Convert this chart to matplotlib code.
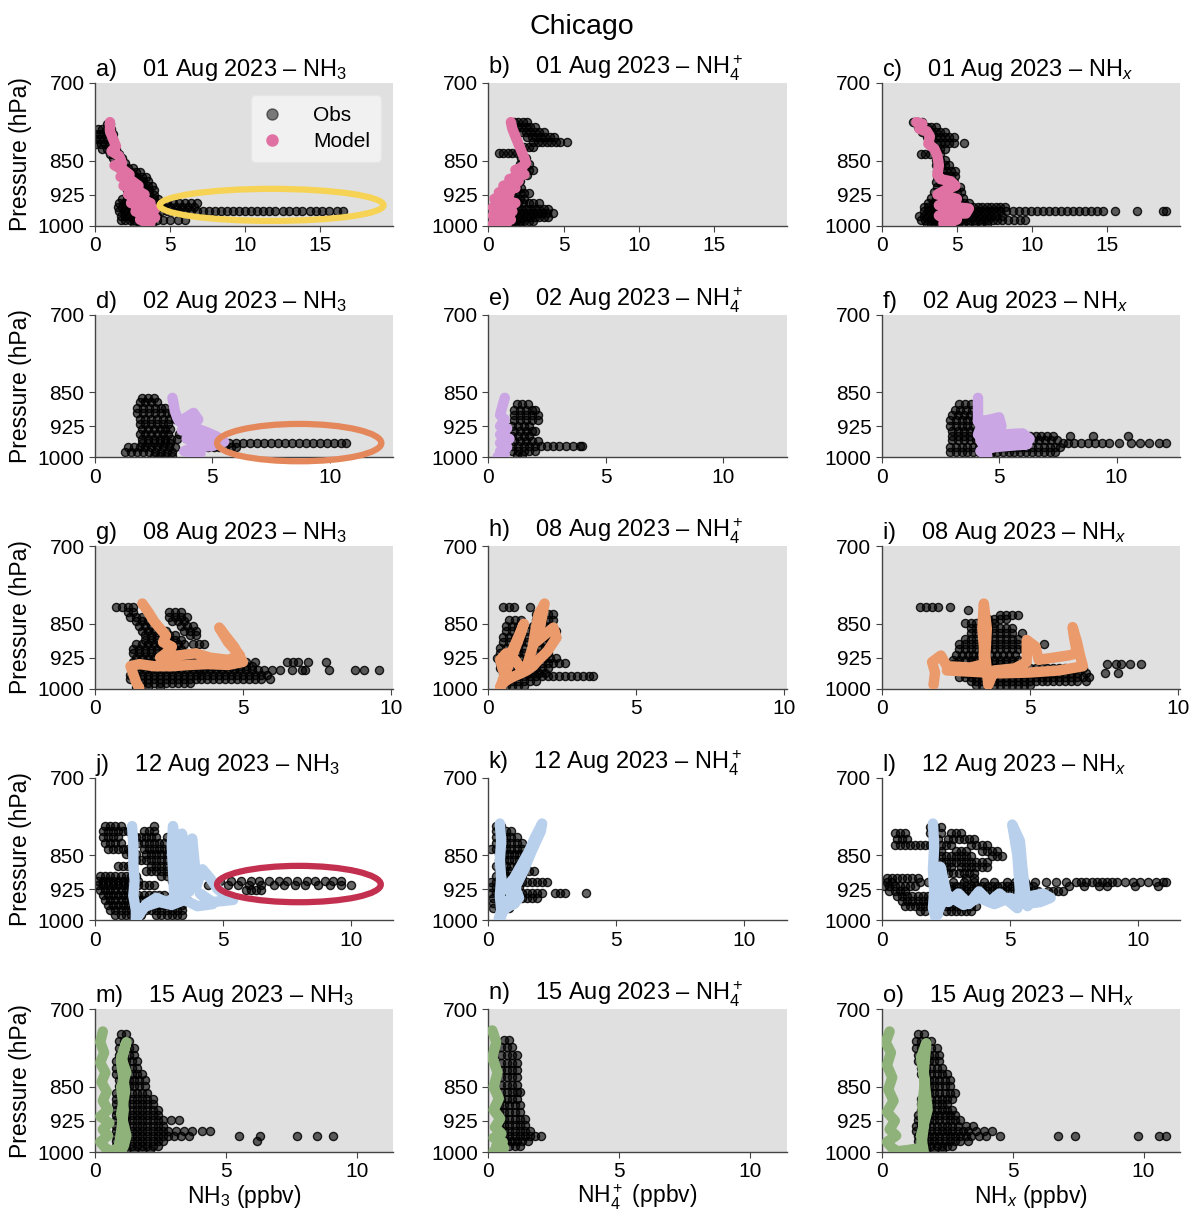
import numpy as np
import matplotlib
matplotlib.use("Agg")
import matplotlib.pyplot as plt
from matplotlib.patches import Ellipse
from matplotlib.lines import Line2D
from matplotlib.ticker import MultipleLocator, NullLocator

plt.rcParams['font.family'] = ['Liberation Sans', 'DejaVu Sans']
plt.rcParams['mathtext.fontset'] = 'custom'
plt.rcParams['mathtext.rm'] = 'Liberation Sans'
plt.rcParams['mathtext.it'] = 'Liberation Sans:italic'
plt.rcParams['mathtext.default'] = 'regular'

# ---------------------------------------------------------------- labels
DATES = ['01 Aug 2023', '02 Aug 2023', '08 Aug 2023', '12 Aug 2023', '15 Aug 2023']
SPECIES = ['NH$_3$', 'NH$_4^+$', 'NH$_{\\mathit{x}}$']
XLABELS = ['NH$_3$ (ppbv)', 'NH$_4^+$ (ppbv)', 'NH$_{\\mathit{x}}$ (ppbv)']
LETTERS = 'abcdefghijklmno'
P_TICKS = [700, 850, 925, 1000]

# ---------------------------------------------------------------- observations
# each row: (pressure level in hPa, mixing ratios in ppbv sampled at that level)
OBS_A = [
    (775, [0.8, 1.0]),
    (785, [0.2, 0.5, 0.8, 1.1]),
    (795, [0.0, 0.3, 0.6, 0.9, 1.2]),
    (805, [0.0, 0.3, 0.6, 0.9, 1.2]),
    (815, [0.1, 0.4, 0.7, 1.0, 1.3]),
    (825, [0.5, 0.8, 1.1, 1.4]),
    (835, [1.0, 1.3, 1.6]),
    (845, [1.2, 1.5, 1.8]),
    (855, [1.4, 1.7, 2.0]),
    (865, [1.6, 1.9, 2.2, 2.5]),
    (875, [1.8, 2.1, 2.4, 2.7, 3.0]),
    (885, [1.9, 2.2, 2.5, 2.8, 3.1, 3.4]),
    (895, [2.0, 2.3, 2.6, 2.9, 3.2, 3.5]),
    (905, [2.0, 2.3, 2.6, 2.9, 3.2, 3.5, 3.8]),
    (915, [2.1, 2.4, 2.7, 3.0, 3.3, 3.6, 3.9]),
    (925, [2.1, 2.4, 2.7, 3.0, 3.3, 3.6, 3.9]),
    (935, [1.8, 2.1, 2.4, 2.7, 3.0, 3.3, 3.6, 3.9, 4.2]),
    (945, [1.6, 1.9, 2.2, 2.5, 2.8, 3.1, 3.4, 3.7, 4.0, 4.4, 4.8, 5.2, 5.6, 6.0, 6.4, 6.8]),
    (955, [1.5, 1.8, 2.1, 2.4, 2.7, 3.0, 3.3, 3.6, 3.9, 4.2, 4.6, 5.0, 5.4, 5.8, 6.2, 6.6]),
    (965, [1.6, 1.9, 2.2, 2.5, 2.8, 3.1, 3.4, 3.7, 4.0, 4.4, 4.8, 5.2, 5.6, 6.0, 6.4, 6.8,
           7.2, 7.6, 8.0, 8.4, 8.8, 9.2, 9.6, 10.0, 10.4, 10.8, 11.2, 11.6, 12.0, 12.5,
           12.9, 13.4, 13.8, 14.3, 14.7, 15.1, 15.6, 16.1, 16.5]),
    (975, [1.7, 2.0, 2.3, 2.6, 2.9, 3.2, 3.5, 3.8, 4.1]),
    (985, [1.7, 2.0, 2.3, 2.6, 2.9, 3.2, 3.5, 3.8, 4.1, 4.5, 5.0, 5.5, 6.0]),
    (995, [2.6, 3.0, 3.4, 3.8]),
]
OBS_B = [
    (772, [1.7, 2.0, 2.3, 2.6]),
    (782, [1.9, 2.2, 2.5, 2.8, 3.1]),
    (792, [2.2, 2.5, 2.8, 3.1, 3.4, 3.7]),
    (802, [2.6, 2.9, 3.2, 3.5, 3.8, 4.1, 4.4]),
    (812, [3.0, 3.3, 3.6, 3.9, 4.2, 4.5, 4.8, 5.2]),
    (822, [2.4, 2.7, 3.0]),
    (834, [0.7, 1.0, 1.3, 1.6, 1.9, 2.2]),
    (845, [2.2, 2.5]),
    (858, [2.1, 2.4, 2.7]),
    (870, [2.1, 2.4, 2.7, 3.0]),
    (882, [2.0, 2.3, 2.6]),
    (895, [1.8, 2.1]),
    (910, [1.6, 1.9, 2.2]),
    (922, [1.5, 1.8, 2.1, 2.4, 2.7]),
    (935, [1.5, 1.8, 2.1, 2.4]),
    (945, [1.4, 1.7, 2.0, 2.3, 2.7, 3.0, 3.4]),
    (958, [1.3, 1.6, 1.9, 2.2, 2.5, 2.8, 3.1, 3.4, 3.7, 4.0]),
    (968, [1.2, 1.5, 1.8, 2.1, 2.4, 2.7, 3.0, 3.3, 3.6, 3.9, 4.3]),
    (978, [1.3, 1.6, 1.9, 2.2, 2.5, 2.8, 3.1, 3.4, 3.7, 4.0]),
    (988, [1.2, 1.5, 1.8, 2.1, 2.4, 2.7, 3.0]),
    (997, [1.5, 1.8, 2.1]),
]
OBS_C = [
    (772, [2.1, 2.4, 2.7]),
    (782, [2.4, 2.7, 3.0, 3.3, 3.6]),
    (792, [2.7, 3.0, 3.3, 3.6, 3.9, 4.2]),
    (802, [3.0, 3.3, 3.6, 3.9, 4.2, 4.5, 4.8]),
    (814, [3.3, 3.6, 3.9, 4.2, 4.5, 4.8, 5.5]),
    (826, [3.6, 3.9, 4.2]),
    (836, [2.6, 2.9, 3.2, 3.6, 3.9]),
    (848, [3.6, 3.9, 4.2]),
    (860, [3.6, 3.9, 4.2, 4.5]),
    (872, [3.7, 4.0, 4.3, 4.6, 4.9]),
    (884, [3.7, 4.0, 4.3, 4.6, 4.9]),
    (896, [3.6, 3.9, 4.2, 4.5, 4.8]),
    (908, [3.7, 4.0, 4.3, 4.6, 4.9, 5.2]),
    (920, [3.5, 3.8, 4.1, 4.4, 4.7, 5.0, 5.3]),
    (932, [3.3, 3.6, 3.9, 4.2, 4.5, 4.8, 5.1, 5.4]),
    (944, [3.1, 3.4, 3.7, 4.0, 4.3, 4.6, 4.9, 5.2, 5.5, 5.8]),
    (955, [2.8, 3.1, 3.4, 3.7, 4.0, 4.3, 4.6, 4.9, 5.2, 5.5, 5.8, 6.1, 6.4, 6.7, 7.0, 7.3,
           7.6, 7.9, 8.2]),
    (965, [2.8, 3.1, 3.4, 3.7, 4.0, 4.3, 4.6, 4.9, 5.2, 5.5, 5.8, 6.1, 6.4, 6.7, 7.0, 7.3,
           7.6, 7.9, 8.3, 8.7, 9.1, 9.5, 9.9, 10.3, 10.7, 11.1, 11.5, 11.9, 12.3, 12.7,
           13.1, 13.5, 13.9, 14.3, 14.7, 15.5, 17.0, 18.7, 18.9]),
    (975, [2.5, 2.8, 3.1, 3.4, 3.7, 4.0, 4.3, 4.6, 4.9, 5.2, 5.5, 5.8, 6.1, 6.4, 6.7, 7.0,
           7.3, 7.6, 8.0]),
    (985, [2.6, 2.9, 3.2, 3.5, 3.8, 4.1, 4.4, 4.7, 5.0, 5.3, 5.6, 5.9, 6.2, 6.5, 6.8, 7.1,
           7.4, 7.7, 8.0, 8.4, 8.8, 9.2, 9.5]),
    (995, [3.0, 3.3, 3.6, 3.9, 4.2, 4.5, 4.8, 5.1, 5.4, 5.8, 6.2, 6.6, 7.0]),
]
OBS_D = [
    (862, [2.0, 2.25, 2.5]),
    (872, [1.9, 2.15, 2.4, 2.65]),
    (884, [1.8, 2.05, 2.3, 2.55, 2.8, 3.0]),
    (896, [1.8, 2.05, 2.3, 2.55, 2.8, 3.05, 3.3]),
    (908, [1.9, 2.15, 2.4, 2.65, 2.9, 3.15, 3.4]),
    (920, [1.9, 2.15, 2.4, 2.65, 2.9, 3.1]),
    (932, [2.0, 2.25, 2.5, 2.75, 3.0, 3.2]),
    (944, [1.9, 2.15, 2.4, 2.65, 2.9, 3.1, 3.6]),
    (956, [2.0, 2.25, 2.5, 2.75, 3.0, 3.25, 3.5]),
    (964, [2.0, 2.25, 2.5, 2.75, 3.0, 3.2, 5.7, 6.0, 6.3, 6.6, 6.9, 7.2, 7.5, 7.8, 8.1,
           8.4, 8.7, 9.0, 9.3, 9.6, 9.9, 10.2, 10.5, 10.7]),
    (975, [1.4, 1.65, 1.9, 2.15, 2.4, 2.65, 2.9, 3.15, 3.4, 4.8, 5.05, 5.3, 5.55, 5.8, 6.0]),
    (986, [1.3, 1.55, 1.8, 2.05, 2.3, 2.55, 2.8, 3.05, 3.3]),
    (996, [2.5, 2.75, 3.0, 3.3]),
]
OBS_E = [
    (876, [1.2, 1.45, 1.7]),
    (888, [1.1, 1.35, 1.6, 1.85, 2.0]),
    (900, [1.1, 1.35, 1.6, 1.85, 2.1]),
    (912, [1.1, 1.35, 1.6, 1.85, 2.1]),
    (924, [1.0, 1.25, 1.5, 1.75]),
    (936, [1.1, 1.35, 1.6, 1.85, 2.0]),
    (948, [1.0, 1.25, 1.5, 1.75]),
    (960, [1.1, 1.35, 1.6, 1.85, 2.1]),
    (972, [1.0, 1.25, 1.5, 1.75, 2.0, 2.25, 2.5, 2.75, 3.0, 3.3, 3.6, 3.9, 4.0]),
    (984, [1.0, 1.25, 1.5, 1.75, 2.0]),
    (995, [1.2, 1.45]),
]
OBS_F = [
    (876, [3.3, 3.55, 3.8]),
    (888, [3.1, 3.35, 3.6, 3.85]),
    (900, [3.0, 3.25, 3.5, 3.75, 4.0]),
    (912, [2.9, 3.15, 3.4, 3.65, 3.9]),
    (924, [2.9, 3.15, 3.4, 3.65, 3.9]),
    (936, [3.0, 3.25, 3.5, 3.75, 4.0]),
    (948, [3.0, 3.25, 3.5, 3.75, 4.0, 6.3, 6.55, 6.8, 7.05, 7.3, 8.0, 9.0, 10.5]),
    (958, [3.0, 3.25, 3.5, 3.75, 4.0, 6.2, 6.45, 6.7, 6.95, 7.2, 7.45]),
    (964, [7.7, 7.95, 8.2, 8.5, 8.8, 9.1, 9.4, 9.7, 10.1, 10.6, 11.0, 11.4, 11.8, 12.1]),
    (975, [2.9, 3.15, 3.4, 3.65, 3.9, 4.15, 4.4, 4.65, 4.9, 5.15, 5.4, 5.65, 5.9, 6.15,
           6.4, 6.65, 6.9, 7.15, 7.4, 7.6]),
    (986, [2.9, 3.15, 3.4, 3.65, 3.9, 4.15, 4.4, 4.65, 4.9, 5.15, 5.4, 5.65, 5.9, 6.15,
           6.4, 6.65, 6.9, 7.15, 7.4]),
    (996, [4.4, 4.6]),
]
OBS_G = [
    (815, [0.7, 0.9, 1.1, 1.3]),
    (825, [1.1, 1.3, 2.5, 2.7, 2.9]),
    (835, [1.2, 1.4, 1.6, 2.5, 2.7, 2.9, 3.1]),
    (845, [1.4, 1.6, 1.8, 2.6, 2.8, 3.0]),
    (855, [1.5, 1.7, 1.9, 2.1, 2.9, 3.1, 3.3]),
    (865, [1.6, 1.8, 2.0, 2.2, 2.4, 3.0, 3.2, 3.4]),
    (875, [1.7, 1.9, 2.1, 2.3, 2.5, 2.7, 3.2, 3.4]),
    (885, [1.7, 1.9, 2.1, 2.3, 2.5, 2.7, 2.9]),
    (895, [1.4, 1.6, 1.8, 2.0, 2.2, 2.4, 2.6, 2.8, 3.0, 3.3, 3.5, 3.7]),
    (905, [1.3, 1.5, 1.7, 1.9, 2.1, 2.3, 2.5, 2.7, 2.9]),
    (915, [1.3, 1.5, 1.7, 1.9, 2.1, 2.3, 2.5, 2.7, 2.9, 3.1]),
    (925, [1.4, 1.6, 1.8, 2.0, 2.2, 2.4, 2.6, 2.8, 3.0, 3.2]),
    (935, [1.3, 1.5, 1.7, 1.9, 2.1, 2.3, 2.5, 2.7, 2.9, 3.1, 3.3, 5.1, 5.4, 6.5, 6.7, 6.85,
           7.2, 7.8]),
    (945, [1.5, 1.7, 1.9, 2.1, 2.3, 2.5, 2.7, 2.9, 3.1, 3.3, 3.5, 3.7, 3.9, 4.1, 4.3, 4.5,
           4.7, 4.9, 5.1, 5.3]),
    (955, [1.3, 1.5, 1.7, 1.9, 2.1, 2.3, 2.5, 2.7, 2.9, 3.1, 3.3, 3.5, 3.7, 3.9, 4.1, 4.3,
           4.5, 4.7, 4.9, 5.1, 5.3, 5.5, 5.7, 6.0, 6.25, 6.65, 7.0, 7.1, 7.9, 8.8, 9.1, 9.6]),
    (965, [1.2, 1.4, 1.6, 1.8, 2.0, 2.2, 2.4, 2.6, 2.8, 3.0, 3.2, 3.4, 3.6, 3.8, 4.0, 4.2,
           4.4, 4.6, 4.8, 5.0, 5.2, 5.4, 5.6, 5.8]),
    (975, [1.2, 1.4, 1.6, 1.8, 2.0, 2.2, 2.4, 2.6, 2.8, 3.0, 3.2, 3.4, 3.6, 3.8, 4.0, 4.2,
           4.4, 4.6, 4.8, 5.0, 5.2, 5.4, 5.6, 5.9]),
    (985, [1.4, 1.6, 1.8, 2.0, 2.2, 2.4, 2.6, 2.8, 3.0, 3.2]),
    (995, [1.4, 1.8, 2.2]),
]
OBS_H = [
    (815, [0.5, 0.7, 0.85, 1.4]),
    (830, [1.6, 1.8, 2.0, 2.2]),
    (842, [0.7, 0.9, 1.1, 1.6, 1.8, 2.0, 2.2]),
    (854, [0.6, 0.8, 1.0, 1.2, 1.5, 1.7, 1.9, 2.1]),
    (866, [0.6, 0.8, 1.0, 1.3, 1.5, 1.7, 1.9, 2.1, 2.3]),
    (878, [0.5, 0.7, 0.9, 1.1, 1.3, 1.5, 1.7, 1.9, 2.1, 2.3]),
    (890, [0.5, 0.7, 0.9, 1.1, 1.3, 1.5, 1.7, 1.9, 2.1]),
    (902, [0.4, 0.6, 0.8, 1.0, 1.2, 1.5, 1.7, 1.9]),
    (914, [0.4, 0.6, 0.8, 1.0, 1.2, 1.4, 1.6, 1.8, 2.0]),
    (926, [0.3, 0.5, 0.7, 0.9, 1.1, 1.3, 1.5, 1.7, 1.9, 2.1, 2.3]),
    (938, [0.4, 0.6, 0.8, 1.0, 1.2, 1.4, 1.6, 1.8, 2.0, 2.2, 2.4, 2.6]),
    (950, [0.4, 0.6, 0.8, 1.0, 1.2, 1.4, 1.6, 1.8, 2.0]),
    (960, [0.5, 0.7, 0.9, 1.1, 1.3, 1.5, 1.7, 1.9]),
    (969, [0.6, 0.8, 1.0, 1.2, 1.4, 1.6, 1.8, 2.0, 2.2, 2.4, 2.6, 2.8, 3.0, 3.2, 3.4, 3.55]),
    (980, [0.6, 0.8, 1.0, 1.2, 1.4, 1.6]),
    (992, [0.6, 0.8, 1.0, 1.2]),
]
OBS_I = [
    (815, [1.3, 1.5, 1.7, 1.9, 2.3]),
    (822, [2.9]),
    (832, [4.0, 4.2, 4.4, 4.6]),
    (840, [3.4, 3.6, 3.8, 4.0, 4.2]),
    (848, [2.8, 3.0, 3.2, 3.4, 3.6, 3.8]),
    (858, [3.0, 3.2, 3.4, 3.6, 3.8, 4.0, 4.2, 4.4]),
    (870, [3.0, 3.2, 3.4, 3.6, 3.8, 4.0, 4.2, 4.4, 4.75]),
    (882, [2.8, 3.0, 3.2, 3.4, 3.6, 3.8, 4.0, 4.2, 4.4, 4.6]),
    (894, [2.6, 2.8, 3.0, 3.2, 3.4, 3.6, 3.8, 4.0, 4.2, 4.4, 4.6, 5.5]),
    (906, [2.6, 2.8, 3.0, 3.2, 3.4, 3.6, 3.8, 4.0, 4.2, 4.4, 4.6, 4.8]),
    (918, [2.5, 2.7, 2.9, 3.1, 3.3, 3.5, 3.7, 3.9, 4.1, 4.3, 4.5]),
    (930, [2.4, 2.6, 2.8, 3.0, 3.2, 3.4, 3.6, 3.8, 4.0, 4.2, 4.4, 4.6, 4.8]),
    (940, [2.4, 2.6, 3.0, 3.2, 3.4, 3.6, 3.8, 4.0, 4.2, 4.4, 4.6, 7.6, 7.9, 8.1, 8.4, 8.75]),
    (950, [3.0, 3.2, 3.4, 3.6, 3.8, 4.0, 4.2, 4.4, 4.6, 4.8, 5.0, 5.2, 5.4, 5.6, 5.8, 6.0,
           6.2, 6.4, 6.6, 6.8]),
    (960, [2.8, 3.0, 3.2, 3.4, 3.6, 3.8, 4.0, 4.2, 4.4, 4.6, 4.8, 5.0, 5.2, 5.4, 5.6, 5.8,
           6.0, 6.2, 6.4, 6.6, 6.9, 7.55, 8.0]),
    (970, [2.6, 2.8, 3.0, 3.2, 3.4, 3.6, 3.8, 4.0, 4.2, 4.4, 4.6, 4.8, 5.0, 5.2, 5.4, 5.6,
           5.8, 6.0, 6.2, 6.4, 6.6, 6.8, 7.0]),
    (980, [3.0, 3.2, 3.4, 3.6, 3.8, 4.0, 4.2, 4.4, 4.6, 4.8, 5.0, 5.2, 5.4, 5.6, 5.8, 6.0,
           6.2, 6.4, 6.6, 6.9]),
    (990, [3.2, 3.4, 3.6, 3.8, 4.0, 4.2, 4.4, 4.6, 4.8, 5.0]),
]
OBS_J = [
    (790, [0.4, 0.6, 0.8, 1.0, 2.3]),
    (800, [0.3, 0.5, 0.7, 0.9, 1.1, 1.3, 1.9, 2.1, 2.3]),
    (812, [0.3, 0.5, 0.7, 0.9, 1.6, 1.8, 2.0, 2.2, 2.4, 2.8, 3.0]),
    (824, [0.4, 0.6, 0.8, 1.0, 1.7, 1.9, 2.1, 2.3, 2.5, 2.7]),
    (836, [0.5, 0.7, 0.9, 1.1, 1.3, 1.9, 2.1, 2.3, 2.5, 2.7, 2.9]),
    (848, [1.2, 1.4, 1.6, 2.0, 2.2, 2.4, 2.6, 2.8, 3.0]),
    (860, [1.6, 1.8, 2.0, 2.2, 2.4, 2.6, 2.8, 3.0, 3.2]),
    (872, [0.9, 1.1, 1.3, 1.5, 2.2, 2.4, 2.6, 2.8, 3.0, 3.2, 3.4]),
    (884, [2.0, 2.2, 2.4, 2.6, 2.8, 3.0, 3.2]),
    (896, [0.2, 0.4, 0.6, 0.8, 1.0, 1.2, 1.4, 1.6, 2.6, 2.8, 3.0, 3.2, 3.4]),
    (906, [0.1, 0.3, 0.5, 0.7, 0.9, 1.1, 1.3, 1.5, 1.7, 3.0, 3.2, 3.4, 3.6, 4.9, 5.3, 5.7,
           6.1, 6.4, 6.8, 7.2, 7.5, 7.9, 8.3, 8.6, 9.0, 9.3, 9.6]),
    (916, [0.1, 0.3, 0.5, 0.7, 0.9, 1.1, 1.3, 1.5, 1.7, 1.9, 2.1, 2.3, 4.4, 5.2, 5.6, 6.0,
           6.5, 7.0, 7.4, 7.8, 8.2, 8.7, 9.2, 9.6, 10.0]),
    (926, [0.2, 0.4, 0.6, 0.8, 1.0, 1.2, 1.4, 3.2, 3.6, 5.9, 6.1, 6.3, 6.5]),
    (938, [0.3, 0.5, 0.7, 0.9, 1.1, 1.3, 1.5, 1.7, 1.9, 2.1, 2.3, 2.5, 2.7, 3.0]),
    (950, [0.4, 0.6, 0.8, 1.0, 1.2, 1.4, 1.6, 1.8, 2.0, 2.2, 2.8, 3.0, 3.6, 4.4]),
    (962, [0.5, 0.7, 0.9, 1.1, 1.3, 1.5, 1.7, 1.9, 2.1, 2.3, 2.5, 2.7, 2.9, 3.1, 3.4]),
    (974, [0.6, 0.8, 1.0, 1.2, 1.4, 1.6, 1.8, 2.0, 2.2, 2.4, 2.6, 2.8, 3.0, 3.2, 3.4]),
    (986, [0.8, 1.0, 1.2, 1.4, 1.6, 1.8, 2.4, 2.6, 2.8, 3.0, 3.2, 3.4]),
]
OBS_K = [
    (790, [0.3, 0.5]),
    (800, [0.3, 0.5, 0.7, 0.9]),
    (812, [0.3, 0.5, 0.7, 0.9, 1.1]),
    (824, [0.3, 0.5, 0.7, 0.9, 1.1, 1.3]),
    (836, [0.1, 0.3, 0.5, 0.7, 0.9, 1.1, 1.3]),
    (848, [0.4, 0.6, 0.8, 1.0, 1.2, 1.4]),
    (860, [0.4, 0.6, 0.8, 1.0, 1.2]),
    (872, [0.3, 0.5, 0.7, 0.9, 1.1]),
    (884, [0.4, 0.6, 0.8, 1.6, 1.8]),
    (896, [0.3, 0.5, 0.7, 0.9, 1.1, 1.3]),
    (908, [0.1, 0.3, 0.5, 0.9, 1.1, 1.3, 1.5, 1.7, 1.9, 2.1, 2.3]),
    (920, [0.1, 0.3, 0.5, 1.0, 1.2]),
    (934, [0.1, 0.3, 0.5, 0.9, 1.1, 1.3, 1.5, 1.7, 1.9, 2.1, 2.6, 2.8, 3.0, 3.8]),
    (946, [0.2, 0.4, 0.6, 1.1, 1.3, 1.5, 1.7, 1.9]),
    (958, [0.2, 0.4, 0.6, 0.8, 1.0]),
    (970, [0.2, 0.4, 0.6, 0.8]),
]
OBS_L = [
    (792, [1.9, 2.1, 2.3]),
    (804, [0.5, 0.7, 0.9, 1.9, 2.3, 2.7, 2.9, 3.1]),
    (816, [0.6, 0.8, 1.0, 2.0, 2.2, 2.6, 2.8, 3.0, 3.2, 3.4, 3.6]),
    (828, [0.5, 0.7, 0.9, 1.1, 1.3, 1.5, 1.7, 1.9, 2.1, 2.3, 2.5, 2.7, 3.5, 3.7, 3.9, 4.1]),
    (840, [2.1, 2.3, 2.9, 3.1, 3.3, 3.9, 4.1, 4.3, 4.5]),
    (852, [2.1, 2.3, 2.5, 2.7, 2.9, 3.1, 3.3, 3.5, 4.3, 4.5, 4.7]),
    (864, [2.3, 2.5, 2.7, 2.9, 3.1, 3.3, 3.5, 3.7, 3.9, 4.1]),
    (876, [2.5, 2.7, 3.1, 3.3, 3.5, 3.7, 3.9, 4.1]),
    (888, [2.4, 2.6, 2.8, 3.0, 3.2, 3.4, 3.6]),
    (900, [0.2, 0.4, 0.6, 0.8, 1.0, 1.2, 1.4, 3.3, 3.6]),
    (908, [0.2, 0.4, 1.5, 1.8, 2.4, 2.8, 3.2, 3.6, 4.0, 4.4, 4.9, 5.2, 5.6, 6.0, 6.4, 6.8,
           7.2, 7.6, 7.8, 8.0, 8.2, 8.4, 8.6, 8.8, 9.0, 9.2, 9.5, 9.8, 10.1, 10.4, 10.7,
           11.0, 11.1]),
    (918, [0.1, 0.3, 0.5, 0.7, 0.9, 1.1, 1.3, 2.5, 2.7, 2.9, 3.1, 3.3, 3.5, 3.7, 3.9, 4.1,
           4.3, 4.5, 4.7, 4.9, 5.1, 5.3, 5.5, 5.7, 5.9, 7.3, 7.9, 8.5, 8.8, 9.9, 10.8]),
    (928, [0.3, 0.5, 0.7, 0.9, 2.1, 2.3, 2.5, 2.7, 2.9, 3.1, 3.3, 3.5, 3.7, 3.9, 4.1, 4.3,
           4.5, 4.7, 4.9, 5.1, 5.3, 5.5, 5.7, 5.9, 6.1, 6.5, 6.7, 6.9, 7.1]),
    (940, [0.6, 0.8, 1.0, 1.2, 1.4, 1.6, 1.8, 2.0, 2.2, 2.4, 2.6, 2.8, 3.0, 3.3]),
    (952, [0.8, 1.0, 1.2, 1.4, 1.6, 1.8, 2.0, 2.2, 2.4, 2.6, 2.8, 3.0, 3.2, 3.5]),
    (964, [0.9, 1.1, 1.3, 1.5, 1.7, 1.9, 2.1, 2.3, 2.5, 2.7, 2.9, 3.1, 3.3, 3.5, 3.7]),
    (976, [1.5, 1.7, 2.5, 2.7, 2.9, 3.1, 3.3, 3.5]),
]
OBS_M = [
    (745, [1.0, 1.2]),
    (758, [0.9, 1.1, 1.3]),
    (771, [0.9, 1.1, 1.3, 1.5]),
    (784, [0.9, 1.1, 1.3, 1.5]),
    (797, [0.8, 1.0, 1.2, 1.4, 1.6]),
    (810, [0.8, 1.0, 1.2, 1.4, 1.6]),
    (823, [0.8, 1.0, 1.2, 1.4, 1.6, 1.8]),
    (836, [0.9, 1.1, 1.3, 1.5, 1.7, 1.9]),
    (849, [0.9, 1.1, 1.3, 1.5, 1.7, 1.9]),
    (862, [0.8, 1.0, 1.2, 1.4, 1.6, 1.8, 2.0]),
    (875, [0.8, 1.0, 1.2, 1.4, 1.6, 1.8, 2.0, 2.2]),
    (888, [0.8, 1.0, 1.2, 1.4, 1.6, 1.8, 2.0, 2.2]),
    (900, [0.8, 1.0, 1.2, 1.4, 1.6, 1.8, 2.0, 2.2, 2.4]),
    (912, [0.8, 1.0, 1.2, 1.4, 1.6, 1.8, 2.0, 2.2, 2.4]),
    (924, [0.8, 1.0, 1.2, 1.4, 1.6, 1.8, 2.0, 2.2, 2.4, 2.6, 2.9, 3.2]),
    (936, [0.8, 1.0, 1.2, 1.4, 1.6, 1.8, 2.0, 2.2, 2.4, 2.6]),
    (948, [0.8, 1.0, 1.2, 1.4, 1.6, 1.8, 2.0, 2.2, 2.4, 2.6, 2.8, 3.1, 3.4, 3.7, 4.1, 4.4]),
    (960, [0.8, 1.0, 1.2, 1.4, 1.6, 1.8, 2.0, 2.2, 2.4, 2.6, 2.8, 3.0, 3.3, 3.6, 5.5, 6.3,
           7.7, 8.5, 9.1]),
    (972, [0.8, 1.0, 1.2, 1.4, 1.6, 1.8, 2.0, 2.2, 2.4, 2.6, 6.2]),
    (984, [0.8, 1.0, 1.2, 1.4, 1.6, 1.8, 2.0, 2.2, 2.4]),
    (995, [0.9, 1.2, 1.5, 1.8, 2.1]),
]
OBS_N = [
    (755, [0.6, 0.8]),
    (770, [0.5, 0.7, 0.9]),
    (785, [0.5, 0.7, 0.9, 1.1]),
    (800, [0.5, 0.7, 0.9, 1.1]),
    (815, [0.5, 0.7, 0.9, 1.1]),
    (830, [0.5, 0.7, 0.9, 1.1]),
    (845, [0.5, 0.7, 0.9, 1.1]),
    (860, [0.5, 0.7, 0.9, 1.1, 1.2]),
    (875, [0.5, 0.7, 0.9, 1.1]),
    (890, [0.4, 0.6, 0.8, 1.0, 1.2]),
    (905, [0.4, 0.6, 0.8, 1.0, 1.2]),
    (920, [0.4, 0.6, 0.8, 1.0, 1.2, 1.4]),
    (935, [0.4, 0.6, 0.8, 1.0, 1.2, 1.4]),
    (948, [0.4, 0.6, 0.8, 1.0, 1.2, 1.4, 1.6]),
    (960, [0.4, 0.6, 0.8, 1.0, 1.2, 1.4, 1.6, 1.8, 2.0]),
    (972, [0.5, 0.7, 0.9, 1.1, 1.3, 1.5]),
    (986, [0.6, 0.8, 1.0, 1.2]),
]
OBS_O = [
    (745, [1.4, 1.6]),
    (758, [1.3, 1.5, 1.7, 1.9]),
    (771, [1.3, 1.5, 1.7, 1.9, 2.1]),
    (784, [1.4, 1.6, 1.8, 2.0, 2.2]),
    (797, [1.4, 1.6, 1.8, 2.0, 2.2]),
    (810, [1.5, 1.7, 1.9, 2.1, 2.3]),
    (823, [1.5, 1.7, 1.9, 2.1, 2.3, 2.5]),
    (836, [1.6, 1.8, 2.0, 2.2, 2.4, 2.6]),
    (849, [1.6, 1.8, 2.0, 2.2, 2.4, 2.6]),
    (862, [1.6, 1.8, 2.0, 2.2, 2.4, 2.6, 2.8]),
    (875, [1.5, 1.7, 1.9, 2.1, 2.3, 2.5, 2.7]),
    (888, [1.5, 1.7, 1.9, 2.1, 2.3, 2.5]),
    (900, [1.5, 1.7, 1.9, 2.1, 2.3, 2.5, 2.7]),
    (912, [1.4, 1.6, 1.8, 2.0, 2.2, 2.4, 2.6, 2.8]),
    (924, [1.4, 1.6, 1.8, 2.0, 2.2, 2.4, 2.6, 2.8, 3.0]),
    (936, [1.3, 1.5, 1.7, 1.9, 2.1, 2.3, 2.5, 2.7, 2.9, 3.2, 3.5]),
    (948, [1.3, 1.5, 1.7, 1.9, 2.1, 2.3, 2.5, 2.7, 2.9, 3.1, 3.3, 3.6, 3.9, 4.2]),
    (960, [1.4, 1.6, 1.8, 2.0, 2.2, 2.4, 2.6, 2.8, 3.0, 3.2, 3.4, 3.7, 4.0, 4.5, 6.75, 7.4,
           9.8, 10.6, 10.85]),
    (972, [1.4, 1.6, 1.8, 2.0, 2.2, 2.4, 2.6, 2.8, 3.0, 3.3]),
    (984, [1.5, 1.7, 1.9, 2.1, 2.3, 2.5, 2.7]),
    (995, [1.7, 2.0, 2.3]),
]

# ---------------------------------------------------------------- model, along the flight track
MOD_A_X = [1.0, 1.0, 1.2, 1.4, 1.1, 1.6, 1.8, 1.3, 1.9, 2.3, 1.7, 2.5, 2.9, 1.9, 2.8, 3.3,
           2.2, 3.0, 3.7, 2.4, 3.3, 4.0, 2.7, 3.5, 4.0, 3.0, 3.7, 3.4]
MOD_A_P = [772, 790, 805, 820, 830, 840, 855, 860, 870, 880, 885, 895, 905, 905, 915, 925,
           925, 935, 945, 945, 955, 960, 965, 975, 980, 985, 992, 998]
MOD_B_X = [1.5, 1.6, 1.8, 2.0, 2.2, 2.4, 2.5, 2.2, 1.8, 2.4, 1.4, 2.0, 1.0, 1.8, 0.7, 1.4,
           0.4, 1.2, 1.8, 0.3, 1.0, 1.6, 0.3, 0.9, 1.5, 0.3, 1.2]
MOD_B_P = [772, 785, 800, 815, 830, 845, 855, 865, 870, 880, 890, 895, 905, 910, 920, 925,
           935, 940, 945, 955, 960, 965, 975, 980, 985, 995, 998]
MOD_C_X = [2.3, 2.7, 2.5, 3.0, 3.2, 3.1, 3.5, 3.7, 3.8, 3.7, 3.9, 4.6, 4.9, 4.2, 3.7, 4.4,
           5.0, 4.5, 3.8, 5.0, 5.8, 5.6, 4.6, 3.8, 4.3, 5.0, 4.1, 4.6]
MOD_C_P = [772, 775, 785, 790, 800, 815, 825, 840, 860, 880, 890, 895, 905, 915, 925, 930,
           935, 945, 950, 955, 958, 970, 970, 975, 985, 985, 995, 998]
MOD_D_X = [3.3, 3.35, 3.4, 3.5, 3.6, 3.9, 4.2, 4.4, 4.1, 3.7, 4.3, 4.8, 5.2, 4.6, 3.9, 4.5,
           5.5, 5.0, 4.2, 3.8, 4.5, 4.1]
MOD_D_P = [862, 875, 890, 905, 915, 905, 895, 910, 925, 935, 930, 940, 950, 950, 955, 960,
           962, 972, 975, 985, 990, 998]
MOD_E_X = [0.7, 0.6, 0.5, 0.7, 0.5, 0.8, 0.5, 0.9, 0.5, 0.8, 0.5, 0.7, 0.4]
MOD_E_P = [862, 880, 900, 910, 925, 930, 945, 955, 965, 975, 985, 992, 998]
MOD_F_X = [4.1, 4.1, 4.1, 4.1, 4.6, 5.0, 5.1, 4.2, 4.1, 5.0, 6.0, 6.3, 5.2, 4.2, 4.3, 5.5,
           6.2, 4.8, 4.2, 4.5]
MOD_F_P = [862, 880, 900, 915, 910, 905, 925, 930, 945, 945, 942, 955, 958, 958, 968, 965,
           968, 975, 985, 998]
MOD_G_X = [1.6, 1.8, 2.0, 2.2, 2.4, 2.3, 2.6, 2.4, 2.2, 2.8, 3.4, 3.9, 4.5, 4.9, 4.7, 4.5,
           4.2, 4.4, 4.7, 5.0, 4.5, 3.8, 3.2, 2.6, 2.0, 1.5, 1.2, 1.3, 1.4, 1.5]
MOD_G_P = [808, 825, 845, 860, 875, 890, 900, 915, 925, 920, 915, 925, 930, 920, 905, 890,
           858, 875, 900, 935, 942, 940, 942, 945, 945, 940, 945, 965, 985, 998]
MOD_H_X = [0.4, 0.5, 0.7, 0.9, 1.1, 1.2, 1.0, 0.8, 0.6, 0.5, 0.4, 0.6, 0.9, 1.1, 1.3, 1.5,
           1.6, 1.7, 1.9, 1.8, 1.7, 1.6, 2.2, 2.3, 2.0, 1.7, 1.5, 1.3, 1.1, 0.9, 0.7, 0.5, 0.4]
MOD_H_P = [998, 975, 940, 905, 870, 850, 880, 910, 935, 955, 930, 915, 930, 950, 945, 900,
           860, 830, 808, 840, 870, 890, 858, 880, 910, 930, 945, 955, 962, 968, 975, 985, 995]
MOD_I_X = [1.75, 1.8, 1.7, 2.0, 2.2, 3.0, 3.45, 3.45, 3.4, 3.45, 3.55, 3.5, 3.6, 3.8, 4.5,
           4.9, 4.9, 5.2, 5.3, 5.8, 6.3, 6.6, 6.5, 6.45, 6.6, 6.7, 6.8, 6.0, 5.0, 4.0, 3.0, 2.2]
MOD_I_P = [990, 960, 935, 920, 945, 948, 940, 900, 860, 808, 860, 920, 990, 955, 950,
           935, 885, 900, 930, 925, 920, 915, 880, 857, 890, 920, 945, 955, 960, 962, 958, 955]
MOD_J_X = [1.45, 1.5, 1.5, 1.55, 1.5, 1.6, 1.6, 2.0, 2.4, 2.8, 3.1, 3.05, 3.0, 3.05, 3.2,
           3.4, 3.45, 3.4, 3.6, 3.7, 3.65, 3.8, 3.9, 3.95, 4.2, 4.5, 4.8, 5.1, 5.4, 4.6, 4.1,
           4.6, 4.0, 3.5, 3.0, 2.5, 2.0, 1.7]
MOD_J_P = [790, 830, 870, 905, 940, 975, 998, 960, 945, 955, 945, 880, 830, 790, 860,
           930, 870, 805, 880, 930, 860, 815, 870, 920, 880, 900, 925, 940, 950, 955, 935,
           960, 965, 950, 962, 955, 965, 975]
MOD_K_X = [0.45, 0.5, 0.45, 0.5, 0.45, 0.5, 0.4, 0.6, 0.8, 1.0, 1.2, 1.1, 0.9, 0.7, 1.0,
           1.3, 1.6, 1.8, 2.0, 2.1, 2.05, 1.7, 1.4, 1.1, 0.9, 0.6, 0.5]
MOD_K_P = [785, 820, 860, 900, 940, 975, 998, 975, 965, 960, 945, 930, 935, 920, 900, 870,
           840, 815, 795, 785, 800, 840, 880, 915, 945, 960, 990]
MOD_L_X = [2.0, 2.05, 2.0, 2.05, 2.0, 2.1, 2.4, 2.3, 2.6, 3.0, 3.4, 3.8, 4.2, 4.6, 5.0,
           5.3, 5.4, 5.3, 5.1, 5.4, 5.5, 5.6, 5.7, 5.6, 5.9, 6.3, 6.6, 6.2, 5.6, 5.0, 4.4,
           3.8, 3.2, 2.6, 2.1, 2.2]
MOD_L_P = [785, 830, 880, 930, 970, 992, 950, 875, 955, 935, 960, 930, 955, 935, 955, 970,
           930, 850, 787, 820, 880, 930, 965, 945, 940, 935, 945, 955, 960, 945, 960, 945,
           962, 940, 960, 985]
MOD_M_X = [0.3, 0.2, 0.35, 0.2, 0.4, 0.25, 0.45, 0.3, 0.5, 0.2, 0.55, 0.3, 0.5, 0.2, 0.4,
           0.6, 0.9, 1.0, 1.1, 1.0, 1.2, 1.0, 1.2, 1.0, 1.15, 1.0, 1.2, 1.1, 1.0]
MOD_M_P = [740, 760, 780, 800, 820, 840, 860, 880, 900, 915, 930, 945, 960, 975, 990, 998,
           990, 950, 900, 850, 820, 790, 760, 800, 860, 910, 960, 985, 998]
MOD_N_X = [0.15, 0.3, 0.15, 0.35, 0.2, 0.4, 0.2, 0.45, 0.25, 0.5, 0.2, 0.55, 0.3, 0.6,
           0.4, 0.2]
MOD_N_P = [738, 760, 790, 820, 850, 875, 900, 920, 940, 955, 965, 975, 985, 990, 998, 998]
MOD_O_X = [0.3, 0.15, 0.35, 0.2, 0.4, 0.25, 0.45, 0.2, 0.5, 0.3, 0.55, 0.2, 0.4, 0.6, 1.0,
           1.5, 1.6, 1.55, 1.65, 1.5, 1.7, 1.6, 1.75, 1.5, 1.6]
MOD_O_P = [740, 760, 780, 805, 830, 855, 880, 905, 925, 945, 960, 975, 990, 998, 995, 990,
           940, 890, 840, 790, 762, 820, 900, 960, 998]

OBS = [OBS_A, OBS_B, OBS_C, OBS_D, OBS_E, OBS_F, OBS_G, OBS_H, OBS_I,
       OBS_J, OBS_K, OBS_L, OBS_M, OBS_N, OBS_O]
MODEL = [(MOD_A_X, MOD_A_P), (MOD_B_X, MOD_B_P), (MOD_C_X, MOD_C_P),
         (MOD_D_X, MOD_D_P), (MOD_E_X, MOD_E_P), (MOD_F_X, MOD_F_P),
         (MOD_G_X, MOD_G_P), (MOD_H_X, MOD_H_P), (MOD_I_X, MOD_I_P),
         (MOD_J_X, MOD_J_P), (MOD_K_X, MOD_K_P), (MOD_L_X, MOD_L_P),
         (MOD_M_X, MOD_M_P), (MOD_N_X, MOD_N_P), (MOD_O_X, MOD_O_P)]

# ---------------------------------------------------------------- styling
MODEL_COLORS = ['#df72a3', '#caa6e4', '#eb9a6c', '#b8d0ec', '#8fb27a']
FACE = ['#e0e0e0', '#e0e0e0', '#e0e0e0', '#ffffff', '#e0e0e0']
OBS_FACE = (0, 0, 0, 0.6)
OBS_EDGE = (0, 0, 0, 0.85)
# highlighted low-level plumes: panel, centre x, centre p, width, height, colour
HIGHLIGHTS = [(0, 11.75, 950, 14.9, 76, '#f7d355'),
              (3, 8.7, 965, 7.0, 90, '#e4875b'),
              (9, 7.97, 914, 6.4, 83, '#c3304f')]


def flatten(rows):
    xs, ps = [], []
    for p, vals in rows:
        xs.extend(vals)
        ps.extend([p] * len(vals))
    return np.array(xs, dtype=float), np.array(ps, dtype=float)


fig, axes = plt.subplots(5, 3, figsize=(11.9, 12.11), dpi=100)
fig.subplots_adjust(left=0.0798, right=0.9916, top=0.9315, bottom=0.0487,
                    wspace=0.319, hspace=0.622)

# per-row x extent from the data
row_max = []
for r in range(5):
    m = 0.0
    for c in range(3):
        k = 3 * r + c
        ox, _ = flatten(OBS[k])
        m = max(m, ox.max(), max(MODEL[k][0]))
    row_max.append(m * 1.05)

for k, ax in enumerate(axes.flat):
    r, c = divmod(k, 3)
    ox, op = flatten(OBS[k])
    mx, mp = MODEL[k]
    ax.set_facecolor(FACE[r])
    ax.scatter(ox, op, s=34, facecolors=[OBS_FACE], edgecolors=[OBS_EDGE],
               linewidths=1.0, zorder=2)
    ax.plot(mx, mp, color=MODEL_COLORS[r], lw=7.5, solid_joinstyle='round',
            solid_capstyle='round', zorder=3)

    ax.set_yscale('log')
    ax.set_ylim(1000, 700)
    ax.set_yticks(P_TICKS)
    ax.set_yticklabels([str(t) for t in P_TICKS])
    ax.yaxis.set_minor_locator(NullLocator())
    ax.set_xlim(0, row_max[r])
    ax.xaxis.set_major_locator(MultipleLocator(5))
    for s in ('top', 'right'):
        ax.spines[s].set_visible(False)
    for s in ('left', 'bottom'):
        ax.spines[s].set_color('#444444')
        ax.spines[s].set_linewidth(1.0)
    ax.tick_params(labelsize=15, length=4, color='#444444')
    ax.set_title(f"{LETTERS[k]})    {DATES[r]} \u2013 {SPECIES[c]}", loc='left',
                 fontsize=17, pad=4)
    if c == 0:
        ax.set_ylabel('Pressure (hPa)', fontsize=16.5)
    if r == 4:
        ax.set_xlabel(XLABELS[c], fontsize=16.5, labelpad=1)

for k, cx, cp, w, h, col in HIGHLIGHTS:
    axes.flat[k].add_patch(Ellipse((cx, cp), w, h, fill=False, edgecolor=col, lw=4.5,
                                   zorder=4, clip_on=False))

handles = [Line2D([], [], marker='o', ls='', markerfacecolor=(0, 0, 0, 0.5),
                  markeredgecolor=(0, 0, 0, 0.5), ms=8),
           Line2D([], [], marker='o', ls='', color=MODEL_COLORS[0], ms=8)]
axes[0, 0].legend(handles, ['Obs', 'Model'], loc='upper right', fontsize=15,
                  facecolor='#f3f3f3', edgecolor='#e6e6e6', framealpha=0.9,
                  handlelength=1.0, handletextpad=1.5, borderpad=0.5,
                  labelspacing=0.35, borderaxespad=0.6)

fig.text(0.489, 0.978, 'Chicago', ha='center', va='center', fontsize=20.5)

fig.savefig('out.png', dpi=100)
